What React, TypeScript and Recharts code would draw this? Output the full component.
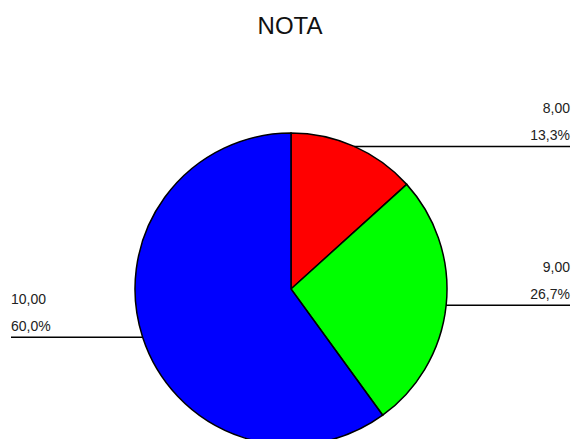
import { PieChart, Pie, Cell } from 'recharts'

const categories = ['8,00', '9,00', '10,00']
const percents = [13.3, 26.7, 60.0]
const COLORS = ['#ff0000', '#00ff00', '#0000ff']

const data = categories.map((name, i) => ({ name, value: percents[i] }))

const RAD = Math.PI / 180
const fmt = (v: number) => v.toFixed(1).replace('.', ',') + '%'

// SPSS-style label: two text rows sitting on a horizontal rule that runs out to the edge
const renderLabel = (props: any) => {
  const { cx, cy, midAngle, outerRadius, index } = props
  const x0 = cx + outerRadius * Math.cos(-midAngle * RAD)
  const y0 = cy + outerRadius * Math.sin(-midAngle * RAD)
  const right = x0 > cx
  const xEnd = right ? 570 : 11
  const anchor = right ? 'end' : 'start'
  return (
    <g key={`lbl-${index}`}>
      <line x1={x0} y1={y0} x2={xEnd} y2={y0} stroke="#000" strokeWidth={1.5} />
      <text x={xEnd} y={y0 - 33} textAnchor={anchor} fontSize={14} fill="#222" fontFamily="'Liberation Sans', Arial, sans-serif">
        {categories[index]}
      </text>
      <text x={xEnd} y={y0 - 6} textAnchor={anchor} fontSize={14} fill="#222" fontFamily="'Liberation Sans', Arial, sans-serif">
        {fmt(percents[index])}
      </text>
    </g>
  )
}

export default function App() {
  return (
    <div style={{ position: 'absolute', left: 0, top: 0, width: 572, height: 439, background: '#fff' }}>
      <div
        style={{
          position: 'absolute',
          left: 0,
          top: 12,
          width: 580,
          textAlign: 'center',
          fontFamily: "'Liberation Sans', Arial, sans-serif",
          fontSize: 24,
          lineHeight: '28px',
          color: '#111',
        }}
      >
        NOTA
      </div>
      <PieChart
        width={572}
        height={439}
        margin={{ top: 0, right: 0, bottom: 0, left: 0 }}
        style={{ position: 'absolute', left: 0, top: 0 }}
      >
        <Pie
          data={data}
          dataKey="value"
          cx={291}
          cy={289}
          outerRadius={156}
          startAngle={90}
          endAngle={-270}
          stroke="#000"
          strokeWidth={1.5}
          label={renderLabel}
          labelLine={false}
          isAnimationActive={false}
        >
          {data.map((entry, index) => (
            <Cell key={`cell-${index}`} fill={COLORS[index % COLORS.length]} />
          ))}
        </Pie>
      </PieChart>
    </div>
  )
}
